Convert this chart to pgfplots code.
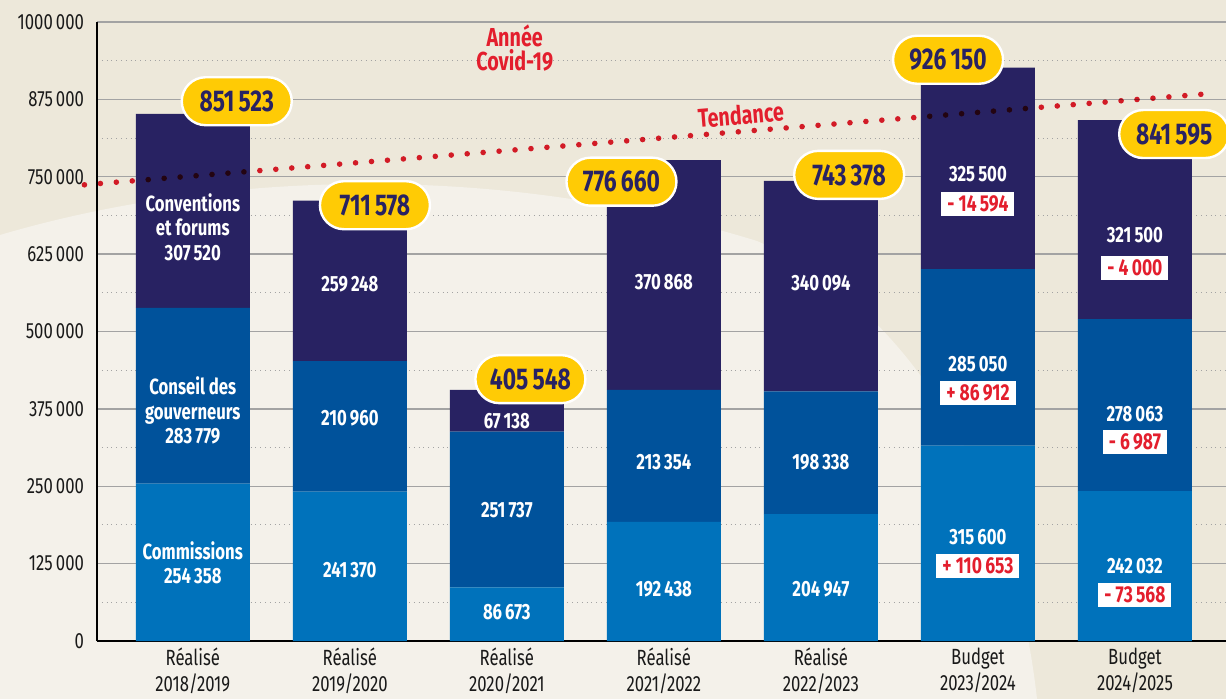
\documentclass[border=0pt]{standalone}
\usepackage{fontspec}
\setmainfont{Fira Sans}[FakeStretch=0.76]
\usepackage{pgfplots}
\pgfplotsset{compat=1.18}
\usetikzlibrary{backgrounds,calc}

\newcommand\ts{\kern0.14em}

\definecolor{cLight}{HTML}{0072BB}
\definecolor{cMid}{HTML}{00529B}
\definecolor{cNavy}{HTML}{282262}
\definecolor{cYellow}{HTML}{FFCB05}
\definecolor{cRed}{HTML}{E31E2D}
\definecolor{cBeige}{HTML}{EDE8DA}
\definecolor{cPale}{HTML}{F4F1EA}
\definecolor{cGrid}{HTML}{A3A3A3}

\tikzset{
  seg/.style={text=white, font=\bfseries\fontsize{11}{12.2}\selectfont, align=center, inner sep=0pt},
  tot/.style={fill=cYellow, draw=white, line width=1.2pt, rounded corners=12pt, text=cNavy,
     font=\bfseries\fontsize{15}{16}\selectfont, minimum width=55pt, minimum height=24pt, inner sep=2pt},
  diff/.style={fill=white, text=cRed, font=\bfseries\fontsize{11.5}{12}\selectfont,
     inner xsep=3pt, inner ysep=1.5pt, minimum height=12pt},
  redlab/.style={text=cRed, font=\bfseries\fontsize{13}{12}\selectfont, align=center},
}

\pgfplotsset{
  common/.style={
    scale only axis, width=564.5pt, height=309.5pt,
    xmin=-0.61, xmax=6.58, ymin=0, ymax=1000000, clip=false,
  }
}

\begin{document}
\begin{tikzpicture}
\begin{axis}[
  common,
  ybar stacked, bar width=57pt,
  axis x line*=bottom, axis y line*=left,
  axis line style={line width=1pt, black, -},
  xtick={0,...,6},
  xticklabels={{Réalisé\\2018/2019},{Réalisé\\2019/2020},{Réalisé\\2020/2021},{Réalisé\\2021/2022},{Réalisé\\2022/2023},{Budget\\2023/2024},{Budget\\2024/2025}},
  xticklabel style={align=center, font=\fontsize{11}{13}\selectfont, text=black!90},
  ytick={0,125000,250000,375000,500000,625000,750000,875000,1000000},
  yticklabels={0,125\ts000,250\ts000,375\ts000,500\ts000,625\ts000,750\ts000,875\ts000,1000\ts000},
  yticklabel style={font=\fontsize{11}{12}\selectfont, text=black!90, xshift=-3pt},
  scaled y ticks=false,
  major tick length=0pt, minor tick length=0pt,
  ymajorgrids, minor y tick num=1, yminorgrids,
  major grid style={cGrid, line width=0.7pt},
  minor grid style={cGrid, dotted, line width=0.5pt},
]
\coordinate (SW) at (rel axis cs:0,0);
\coordinate (NE) at (rel axis cs:1,1);
% Commissions
\addplot[fill=cLight, draw=none] coordinates {(0,254358) (1,241370) (2,86673) (3,192438) (4,204947) (5,315600) (6,242032)};
% Conseil des gouverneurs
\addplot[fill=cMid, draw=none] coordinates {(0,283779) (1,210960) (2,251737) (3,213354) (4,198338) (5,285050) (6,278063)};
% Conventions et forums
\addplot[fill=cNavy, draw=none] coordinates {(0,313386) (1,259248) (2,67138) (3,370868) (4,340094) (5,325500) (6,321500)};
\end{axis}

\begin{axis}[common, hide axis]
% trend line
\addplot[cRed, line width=2.8pt, dash pattern=on 0pt off 8pt, line cap=round, blend mode=multiply]
  coordinates {(-0.69,737000) (6.51,885000)};

\node[redlab] at (axis cs:2.05,958000) {Année\\Covid-19};
\node[redlab, rotate=4.7] at (axis cs:3.49,850000) {Tendance};

% segment labels
\node[seg] at (axis cs:0,669000) {Conventions\\et forums\\307\ts520};
\node[seg] at (axis cs:0,372000) {Conseil des\\gouverneurs\\283\ts779};
\node[seg] at (axis cs:0,126000) {Commissions\\254\ts358};

\node[seg] at (axis cs:1,577000) {259\ts248};
\node[seg] at (axis cs:1,360000) {210\ts960};
\node[seg] at (axis cs:1,115000) {241\ts370};

\node[seg] at (axis cs:2,355000) {67\ts138};
\node[seg] at (axis cs:2,212000) {251\ts737};
\node[seg] at (axis cs:2,47000) {86\ts673};

\node[seg] at (axis cs:3,580000) {370\ts868};
\node[seg] at (axis cs:3,289000) {213\ts354};
\node[seg] at (axis cs:3,84000) {192\ts438};

\node[seg] at (axis cs:4,578000) {340\ts094};
\node[seg] at (axis cs:4,289000) {198\ts338};
\node[seg] at (axis cs:4,84000) {204\ts947};

\node[seg] at (axis cs:5,754000) {325\ts500};
\node[diff] at (axis cs:5,706000) {- 14\ts594};
\node[seg] at (axis cs:5,447000) {285\ts050};
\node[diff] at (axis cs:5,401000) {+ 86\ts912};
\node[seg] at (axis cs:5,168000) {315\ts600};
\node[diff] at (axis cs:5,121000) {+ 110\ts653};

\node[seg] at (axis cs:6,656000) {321\ts500};
\node[diff] at (axis cs:6,603000) {- 4\ts000};
\node[seg] at (axis cs:6,367000) {278\ts063};
\node[diff] at (axis cs:6,321000) {- 6\ts987};
\node[seg] at (axis cs:6,121000) {242\ts032};
\node[diff] at (axis cs:6,74000) {- 73\ts568};

% totals
\node[tot] at (axis cs:0.28,872000) {851\ts523};
\node[tot] at (axis cs:1.16,704000) {711\ts578};
\node[tot] at (axis cs:2.15,423000) {405\ts548};
\node[tot] at (axis cs:2.73,742000) {776\ts660};
\node[tot] at (axis cs:4.18,753000) {743\ts378};
\node[tot] at (axis cs:4.81,939000) {926\ts150};
\node[tot] at (axis cs:6.25,819000) {841\ts595};
\end{axis}

\begin{scope}[on background layer]
\fill[cBeige] ($(SW)+(-48.5pt,-29pt)$) rectangle ($(NE)+(0pt,11pt)$);
\fill[cPale] ($(SW)+(-48.5pt,-29pt)$) -- ($(SW)+(-48.5pt,203pt)$)
   .. controls ($(SW)+(60pt,235pt)$) and ($(SW)+(200pt,240pt)$) .. ($(SW)+(330pt,200pt)$)
   .. controls ($(SW)+(420pt,160pt)$) and ($(SW)+(460pt,60pt)$) .. ($(SW)+(470pt,-29pt)$) -- cycle;
\end{scope}
\pgfresetboundingbox
\path[use as bounding box] ($(SW)+(-48.5pt,-29pt)$) rectangle ($(NE)+(0pt,11pt)$);
\end{tikzpicture}
\end{document}
